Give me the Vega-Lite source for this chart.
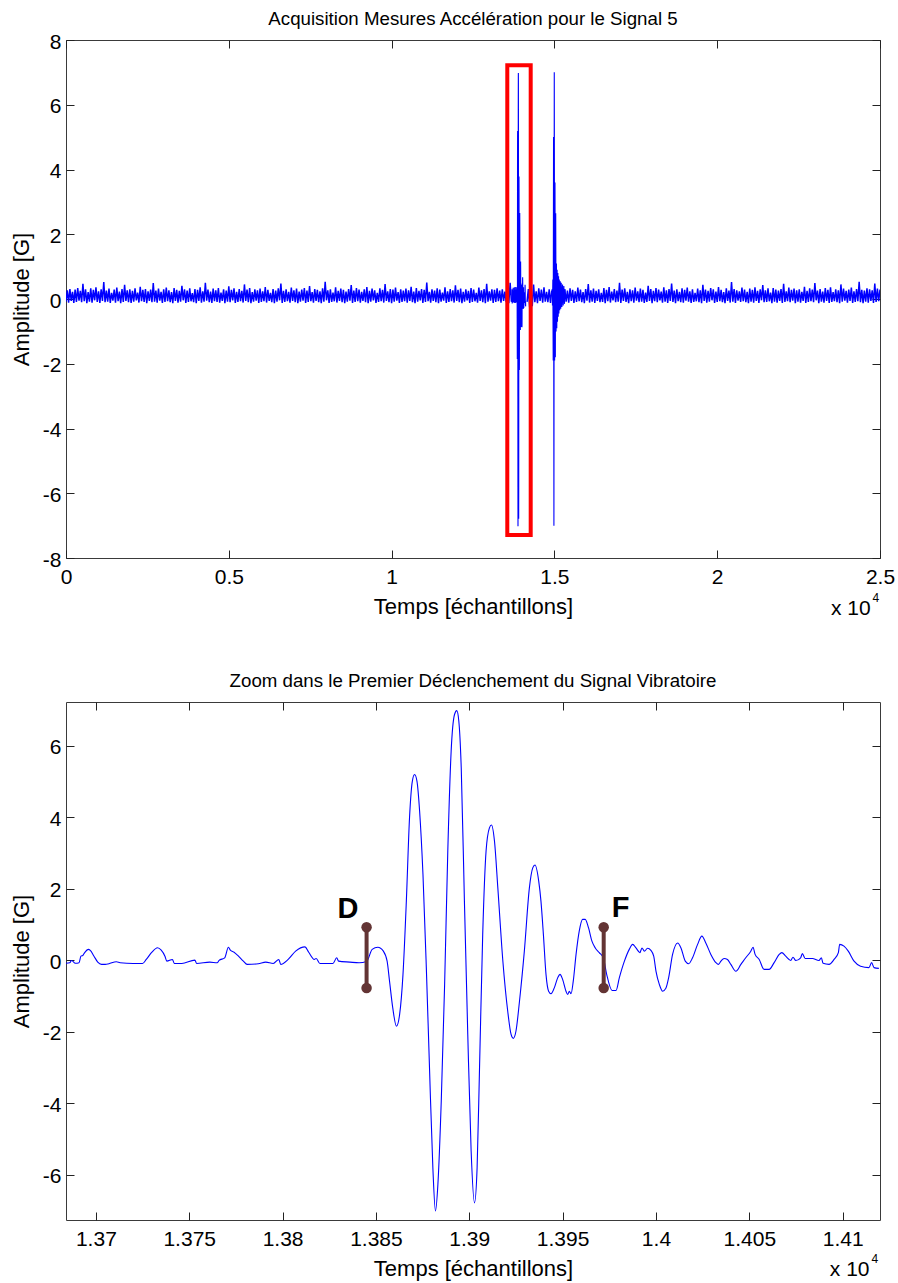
{
"$schema":"https://vega.github.io/schema/vega-lite/v6.json",
"background":"white",
"padding":{"left":10,"top":9,"right":2,"bottom":2},
"spacing":51,
"config":{
 "font":"Liberation Sans",
 "view":{"stroke":"#3a3a3a","strokeWidth":1},
 "axis":{"grid":false,"domain":false,"labelFlush":false,"tickColor":"#222","tickSize":-8,"tickWidth":1,"labelFont":"Liberation Sans","labelFontSize":21,"labelColor":"black","titleFont":"Liberation Sans","titleFontSize":22,"titleFontWeight":"normal","titleColor":"black"},
 "title":{"font":"Liberation Sans","fontSize":18.7,"fontWeight":"normal","color":"black","anchor":"middle","baseline":"alphabetic"}
},
"datasets":{
"n1":[
{"t":0,"a":-0.08},{"t":40,"a":0.27},{"t":80,"a":-0.11},{"t":120,"a":0.31},{"t":160,"a":-0.06},{"t":200,"a":0.22},{"t":240,"a":-0.12},{"t":280,"a":0.29},{"t":320,"a":-0.09},{"t":360,"a":0.34},
{"t":400,"a":-0.05},{"t":440,"a":0.25},{"t":480,"a":-0.1},{"t":520,"a":0.47},{"t":560,"a":-0.07},{"t":600,"a":0.3},{"t":640,"a":-0.13},{"t":680,"a":0.21},{"t":720,"a":-0.08},{"t":760,"a":0.33},
{"t":800,"a":-0.11},{"t":840,"a":0.28},{"t":880,"a":-0.04},{"t":920,"a":0.36},{"t":960,"a":-0.09},{"t":1000,"a":0.24},{"t":1040,"a":-0.12},{"t":1080,"a":0.3},{"t":1120,"a":-0.06},{"t":1160,"a":0.52},
{"t":1200,"a":-0.1},{"t":1240,"a":0.26},{"t":1280,"a":-0.08},{"t":1320,"a":0.32},{"t":1360,"a":-0.12},{"t":1400,"a":0.19},{"t":1440,"a":-0.05},{"t":1480,"a":0.29},{"t":1520,"a":-0.11},{"t":1560,"a":0.35},
{"t":1600,"a":-0.07},{"t":1640,"a":0.23},{"t":1680,"a":-0.13},{"t":1720,"a":0.31},{"t":1760,"a":-0.09},{"t":1800,"a":0.44},{"t":1840,"a":-0.06},{"t":1880,"a":0.27},{"t":1920,"a":-0.1},{"t":1960,"a":0.3},
{"t":2000,"a":-0.12},{"t":2040,"a":0.25},{"t":2080,"a":-0.08},{"t":2120,"a":0.33},{"t":2160,"a":-0.04},{"t":2200,"a":0.2},{"t":2240,"a":-0.11},{"t":2280,"a":0.38},{"t":2320,"a":-0.07},{"t":2360,"a":0.28},
{"t":2400,"a":-0.09},{"t":2440,"a":0.31},{"t":2480,"a":-0.13},{"t":2520,"a":0.24},{"t":2560,"a":-0.06},{"t":2600,"a":0.29},{"t":2640,"a":-0.1},{"t":2680,"a":0.49},{"t":2720,"a":-0.08},{"t":2760,"a":0.26},
{"t":2800,"a":-0.11},{"t":2840,"a":0.32},{"t":2880,"a":-0.05},{"t":2920,"a":0.22},{"t":2960,"a":-0.12},{"t":3000,"a":0.3},{"t":3040,"a":-0.09},{"t":3080,"a":0.35},{"t":3120,"a":-0.07},{"t":3160,"a":0.27},
{"t":3200,"a":-0.1},{"t":3240,"a":0.21},{"t":3280,"a":-0.13},{"t":3320,"a":0.34},{"t":3360,"a":-0.06},{"t":3400,"a":0.28},{"t":3440,"a":-0.11},{"t":3480,"a":0.25},{"t":3520,"a":-0.08},{"t":3560,"a":0.41},
{"t":3600,"a":-0.04},{"t":3640,"a":0.3},{"t":3680,"a":-0.12},{"t":3720,"a":0.26},{"t":3760,"a":-0.09},{"t":3800,"a":0.33},{"t":3840,"a":-0.07},{"t":3880,"a":0.18},{"t":3920,"a":-0.1},{"t":3960,"a":0.31},
{"t":4000,"a":-0.13},{"t":4040,"a":0.28},{"t":4080,"a":-0.06},{"t":4120,"a":0.36},{"t":4160,"a":-0.11},{"t":4200,"a":0.24},{"t":4240,"a":-0.08},{"t":4280,"a":0.5},{"t":4320,"a":-0.05},{"t":4360,"a":0.29},
{"t":4400,"a":-0.1},{"t":4440,"a":0.23},{"t":4480,"a":-0.12},{"t":4520,"a":0.32},{"t":4560,"a":-0.07},{"t":4600,"a":0.27},{"t":4640,"a":-0.09},{"t":4680,"a":0.34},{"t":4720,"a":-0.11},{"t":4760,"a":0.2},
{"t":4800,"a":-0.06},{"t":4840,"a":0.3},{"t":4880,"a":-0.13},{"t":4920,"a":0.26},{"t":4960,"a":-0.08},{"t":5000,"a":0.39},{"t":5040,"a":-0.1},{"t":5080,"a":0.28},{"t":5120,"a":-0.04},{"t":5160,"a":0.33},
{"t":5200,"a":-0.12},{"t":5240,"a":0.22},{"t":5280,"a":-0.09},{"t":5320,"a":0.31},{"t":5360,"a":-0.07},{"t":5400,"a":0.25},{"t":5440,"a":-0.11},{"t":5480,"a":0.45},{"t":5520,"a":-0.06},{"t":5560,"a":0.29},
{"t":5600,"a":-0.1},{"t":5640,"a":0.34},{"t":5680,"a":-0.13},{"t":5720,"a":0.21},{"t":5760,"a":-0.08},{"t":5800,"a":0.3},{"t":5840,"a":-0.05},{"t":5880,"a":0.27},{"t":5920,"a":-0.12},{"t":5960,"a":0.32},
{"t":6000,"a":-0.09},{"t":6040,"a":0.24},{"t":6080,"a":-0.07},{"t":6120,"a":0.37},{"t":6160,"a":-0.11},{"t":6200,"a":0.28},{"t":6240,"a":-0.06},{"t":6280,"a":0.19},{"t":6320,"a":-0.1},{"t":6360,"a":0.31},
{"t":6400,"a":-0.13},{"t":6440,"a":0.26},{"t":6480,"a":-0.08},{"t":6520,"a":0.33},{"t":6560,"a":-0.04},{"t":6600,"a":0.48},{"t":6640,"a":-0.12},{"t":6680,"a":0.25},{"t":6720,"a":-0.09},{"t":6760,"a":0.3},
{"t":6800,"a":-0.07},{"t":6840,"a":0.22},{"t":6880,"a":-0.11},{"t":6920,"a":0.35},{"t":6960,"a":-0.06},{"t":7000,"a":0.27},{"t":7040,"a":-0.1},{"t":7080,"a":0.32},{"t":7120,"a":-0.13},{"t":7160,"a":0.23},
{"t":7200,"a":-0.08},{"t":7240,"a":0.29},{"t":7280,"a":-0.05},{"t":7320,"a":0.34},{"t":7360,"a":-0.12},{"t":7400,"a":0.26},{"t":7440,"a":-0.09},{"t":7480,"a":0.4},{"t":7520,"a":-0.07},{"t":7560,"a":0.21},
{"t":7600,"a":-0.11},{"t":7640,"a":0.31},{"t":7680,"a":-0.06},{"t":7720,"a":0.28},{"t":7760,"a":-0.1},{"t":7800,"a":0.24},{"t":7840,"a":-0.13},{"t":7880,"a":0.33},{"t":7920,"a":-0.08},{"t":7960,"a":0.53},
{"t":8000,"a":-0.04},{"t":8040,"a":0.27},{"t":8080,"a":-0.12},{"t":8120,"a":0.3},{"t":8160,"a":-0.09},{"t":8200,"a":0.2},{"t":8240,"a":-0.07},{"t":8280,"a":0.36},{"t":8320,"a":-0.11},{"t":8360,"a":0.25},
{"t":8400,"a":-0.06},{"t":8440,"a":0.32},{"t":8480,"a":-0.1},{"t":8520,"a":0.28},{"t":8560,"a":-0.13},{"t":8600,"a":0.23},{"t":8640,"a":-0.08},{"t":8680,"a":0.31},{"t":8720,"a":-0.05},{"t":8760,"a":0.43},
{"t":8800,"a":-0.12},{"t":8840,"a":0.26},{"t":8880,"a":-0.09},{"t":8920,"a":0.34},{"t":8960,"a":-0.07},{"t":9000,"a":0.29},{"t":9040,"a":-0.11},{"t":9080,"a":0.22},{"t":9120,"a":-0.06},{"t":9160,"a":0.3},
{"t":9200,"a":-0.1},{"t":9240,"a":0.37},{"t":9280,"a":-0.13},{"t":9320,"a":0.25},{"t":9360,"a":-0.08},{"t":9400,"a":0.32},{"t":9440,"a":-0.04},{"t":9480,"a":0.27},{"t":9520,"a":-0.12},{"t":9560,"a":0.19},
{"t":9600,"a":-0.09},{"t":9640,"a":0.33},{"t":9680,"a":-0.07},{"t":9720,"a":0.28},{"t":9760,"a":-0.11},{"t":9800,"a":0.46},{"t":9840,"a":-0.06},{"t":9880,"a":0.24},{"t":9920,"a":-0.1},{"t":9960,"a":0.31},
{"t":10000,"a":-0.13},{"t":10040,"a":0.29},{"t":10080,"a":-0.08},{"t":10120,"a":0.35},{"t":10160,"a":-0.05},{"t":10200,"a":0.21},{"t":10240,"a":-0.12},{"t":10280,"a":0.3},{"t":10320,"a":-0.09},{"t":10360,"a":0.26},
{"t":10400,"a":-0.07},{"t":10440,"a":0.32},{"t":10480,"a":-0.11},{"t":10520,"a":0.27},{"t":10560,"a":-0.06},{"t":10600,"a":0.38},{"t":10640,"a":-0.1},{"t":10680,"a":0.23},{"t":10720,"a":-0.13},{"t":10760,"a":0.34},
{"t":10800,"a":-0.08},{"t":10840,"a":0.25},{"t":10880,"a":-0.04},{"t":10920,"a":0.31},{"t":10960,"a":-0.12},{"t":11000,"a":0.28},{"t":11040,"a":-0.09},{"t":11080,"a":0.51},{"t":11120,"a":-0.07},{"t":11160,"a":0.22},
{"t":11200,"a":-0.11},{"t":11240,"a":0.3},{"t":11280,"a":-0.06},{"t":11320,"a":0.26},{"t":11360,"a":-0.1},{"t":11400,"a":0.33},{"t":11440,"a":-0.13},{"t":11480,"a":0.29},{"t":11520,"a":-0.08},{"t":11560,"a":0.2},
{"t":11600,"a":-0.05},{"t":11640,"a":0.36},{"t":11680,"a":-0.12},{"t":11720,"a":0.24},{"t":11760,"a":-0.09},{"t":11800,"a":0.31},{"t":11840,"a":-0.07},{"t":11880,"a":0.27},{"t":11920,"a":-0.11},{"t":11960,"a":0.42},
{"t":12000,"a":-0.06},{"t":12040,"a":0.28},{"t":12080,"a":-0.1},{"t":12120,"a":0.32},{"t":12160,"a":-0.13},{"t":12200,"a":0.22},{"t":12240,"a":-0.08},{"t":12280,"a":0.3},{"t":12320,"a":-0.04},{"t":12360,"a":0.25},
{"t":12400,"a":-0.12},{"t":12440,"a":0.34},{"t":12480,"a":-0.09},{"t":12520,"a":0.29},{"t":12560,"a":-0.07},{"t":12600,"a":0.19},{"t":12640,"a":-0.11},{"t":12680,"a":0.35},{"t":12720,"a":-0.06},{"t":12760,"a":0.27},
{"t":12800,"a":-0.1},{"t":12840,"a":0.31},{"t":12880,"a":-0.13},{"t":12920,"a":0.47},{"t":12960,"a":-0.08},{"t":13000,"a":0.24},{"t":13040,"a":-0.05},{"t":13080,"a":0.3},{"t":13120,"a":-0.12},{"t":13160,"a":0.28},
{"t":13200,"a":-0.09},{"t":13240,"a":0.33},{"t":13280,"a":-0.07},{"t":13320,"a":0.26},{"t":13360,"a":-0.11},{"t":13400,"a":0.3},{"t":13440,"a":-0.06},{"t":13480,"a":0.23},{"t":13520,"a":-0.1},{"t":13560,"a":0.35},{"t":13600,"a":-0.13},{"t":13640,"a":0.5},{"t":13680,"a":-0.08}
],
"n2":[
{"t":14160,"a":-0.09},{"t":14200,"a":0.31},{"t":14240,"a":-0.25},{"t":14280,"a":0.27},{"t":14320,"a":-0.22},{"t":14360,"a":0.45},{"t":14400,"a":-0.1},{"t":14440,"a":0.24},{"t":14480,"a":-0.13},{"t":14520,"a":0.33},
{"t":14560,"a":-0.06},{"t":14600,"a":0.29},{"t":14640,"a":-0.11},{"t":14680,"a":0.36},{"t":14720,"a":-0.08},{"t":14760,"a":0.22},{"t":14800,"a":-0.1},{"t":14840,"a":0.3},{"t":14880,"a":-0.12},{"t":14920,"a":0.26}
],
"b2":[
{"t":14920,"a":0.26},{"t":14930,"a":0.3},{"t":14941,"a":-0.2},{"t":14952,"a":0.6},{"t":14963,"a":-1.9},{"t":14974,"a":5.0},{"t":14985,"a":-7.0},{"t":14996,"a":7.0},{"t":15007,"a":-1.9},{"t":15018,"a":3.6},{"t":15029,"a":-1.8},
{"t":15040,"a":2.65},{"t":15051,"a":-1.0},{"t":15062,"a":1.1},{"t":15073,"a":-0.9},{"t":15084,"a":0.9},{"t":15095,"a":-0.7},{"t":15106,"a":0.8},{"t":15117,"a":-0.55},{"t":15128,"a":0.7},{"t":15139,"a":-0.45},
{"t":15150,"a":0.6},{"t":15165,"a":-0.35},{"t":15180,"a":0.55},{"t":15195,"a":-0.3},{"t":15210,"a":0.5},{"t":15230,"a":-0.25},{"t":15250,"a":0.45},{"t":15270,"a":-0.2},{"t":15290,"a":0.4},{"t":15310,"a":-0.15},{"t":15320,"a":0.3}
],
"n3":[
{"t":15320,"a":0.3},{"t":15360,"a":-0.08},{"t":15400,"a":0.26},{"t":15440,"a":-0.11},{"t":15480,"a":0.33},{"t":15520,"a":-0.06},{"t":15560,"a":0.28},{"t":15600,"a":-0.12},{"t":15640,"a":0.24},{"t":15680,"a":-0.09},
{"t":15720,"a":0.35},{"t":15760,"a":-0.07},{"t":15800,"a":0.29},{"t":15840,"a":-0.1},{"t":15880,"a":0.21},{"t":15920,"a":-0.13},{"t":15960,"a":0.31},{"t":16000,"a":-0.05},{"t":16040,"a":0.46},{"t":16080,"a":-0.11},
{"t":16120,"a":0.27},{"t":16160,"a":-0.08},{"t":16200,"a":0.32},{"t":16240,"a":-0.12},{"t":16280,"a":0.25},{"t":16320,"a":-0.06},{"t":16360,"a":0.3},{"t":16400,"a":-0.1},{"t":16440,"a":0.19},{"t":16480,"a":-0.09},
{"t":16520,"a":0.34},{"t":16560,"a":-0.13},{"t":16600,"a":0.28},{"t":16640,"a":-0.07},{"t":16680,"a":0.37},{"t":16720,"a":-0.11},{"t":16760,"a":0.23},{"t":16800,"a":-0.04},{"t":16840,"a":0.31},{"t":16880,"a":-0.1},
{"t":16920,"a":0.26},{"t":16960,"a":-0.08},{"t":17000,"a":0.5},{"t":17040,"a":-0.12},{"t":17080,"a":0.29},{"t":17120,"a":-0.06},{"t":17160,"a":0.33},{"t":17200,"a":-0.09},{"t":17240,"a":0.22},{"t":17280,"a":-0.13},
{"t":17320,"a":0.3},{"t":17360,"a":-0.07},{"t":17400,"a":0.27},{"t":17440,"a":-0.11},{"t":17480,"a":0.35},{"t":17520,"a":-0.05},{"t":17560,"a":0.24},{"t":17600,"a":-0.1},{"t":17640,"a":0.32},{"t":17680,"a":-0.08},
{"t":17720,"a":0.28},{"t":17760,"a":-0.12},{"t":17800,"a":0.2},{"t":17840,"a":-0.09},{"t":17880,"a":0.41},{"t":17920,"a":-0.06},{"t":17960,"a":0.31},{"t":18000,"a":-0.13},{"t":18040,"a":0.25},{"t":18080,"a":-0.07},
{"t":18120,"a":0.34},{"t":18160,"a":-0.1},{"t":18200,"a":0.29},{"t":18240,"a":-0.04},{"t":18280,"a":0.23},{"t":18320,"a":-0.11},{"t":18360,"a":0.36},{"t":18400,"a":-0.08},{"t":18440,"a":0.27},{"t":18480,"a":-0.12},
{"t":18520,"a":0.31},{"t":18560,"a":-0.06},{"t":18600,"a":0.48},{"t":18640,"a":-0.09},{"t":18680,"a":0.26},{"t":18720,"a":-0.13},{"t":18760,"a":0.3},{"t":18800,"a":-0.07},{"t":18840,"a":0.22},{"t":18880,"a":-0.1},
{"t":18920,"a":0.33},{"t":18960,"a":-0.11},{"t":19000,"a":0.28},{"t":19040,"a":-0.05},{"t":19080,"a":0.35},{"t":19120,"a":-0.08},{"t":19160,"a":0.24},{"t":19200,"a":-0.12},{"t":19240,"a":0.3},{"t":19280,"a":-0.09},
{"t":19320,"a":0.19},{"t":19360,"a":-0.07},{"t":19400,"a":0.32},{"t":19440,"a":-0.1},{"t":19480,"a":0.27},{"t":19520,"a":-0.13},{"t":19560,"a":0.44},{"t":19600,"a":-0.06},{"t":19640,"a":0.29},{"t":19680,"a":-0.11},
{"t":19720,"a":0.25},{"t":19760,"a":-0.08},{"t":19800,"a":0.34},{"t":19840,"a":-0.04},{"t":19880,"a":0.3},{"t":19920,"a":-0.12},{"t":19960,"a":0.23},{"t":20000,"a":-0.09},{"t":20040,"a":0.37},{"t":20080,"a":-0.07},
{"t":20120,"a":0.28},{"t":20160,"a":-0.1},{"t":20200,"a":0.21},{"t":20240,"a":-0.13},{"t":20280,"a":0.33},{"t":20320,"a":-0.06},{"t":20360,"a":0.26},{"t":20400,"a":-0.11},{"t":20440,"a":0.52},{"t":20480,"a":-0.08},
{"t":20520,"a":0.31},{"t":20560,"a":-0.12},{"t":20600,"a":0.27},{"t":20640,"a":-0.05},{"t":20680,"a":0.24},{"t":20720,"a":-0.09},{"t":20760,"a":0.35},{"t":20800,"a":-0.07},{"t":20840,"a":0.29},{"t":20880,"a":-0.1},
{"t":20920,"a":0.22},{"t":20960,"a":-0.13},{"t":21000,"a":0.32},{"t":21040,"a":-0.08},{"t":21080,"a":0.28},{"t":21120,"a":-0.11},{"t":21160,"a":0.36},{"t":21200,"a":-0.06},{"t":21240,"a":0.25},{"t":21280,"a":-0.12},
{"t":21320,"a":0.3},{"t":21360,"a":-0.04},{"t":21400,"a":0.43},{"t":21440,"a":-0.1},{"t":21480,"a":0.27},{"t":21520,"a":-0.09},{"t":21560,"a":0.33},{"t":21600,"a":-0.07},{"t":21640,"a":0.2},{"t":21680,"a":-0.13},
{"t":21720,"a":0.34},{"t":21760,"a":-0.08},{"t":21800,"a":0.29},{"t":21840,"a":-0.11},{"t":21880,"a":0.26},{"t":21920,"a":-0.06},{"t":21960,"a":0.31},{"t":22000,"a":-0.12},{"t":22040,"a":0.47},{"t":22080,"a":-0.09},
{"t":22120,"a":0.24},{"t":22160,"a":-0.07},{"t":22200,"a":0.35},{"t":22240,"a":-0.1},{"t":22280,"a":0.28},{"t":22320,"a":-0.05},{"t":22360,"a":0.32},{"t":22400,"a":-0.13},{"t":22440,"a":0.27},{"t":22480,"a":-0.08},
{"t":22520,"a":0.3},{"t":22560,"a":-0.11},{"t":22600,"a":0.22},{"t":22640,"a":-0.06},{"t":22680,"a":0.38},{"t":22720,"a":-0.12},{"t":22760,"a":0.25},{"t":22800,"a":-0.09},{"t":22840,"a":0.33},{"t":22880,"a":-0.07},
{"t":22920,"a":0.29},{"t":22960,"a":-0.1},{"t":23000,"a":0.49},{"t":23040,"a":-0.04},{"t":23080,"a":0.26},{"t":23120,"a":-0.13},{"t":23160,"a":0.31},{"t":23200,"a":-0.08},{"t":23240,"a":0.23},{"t":23280,"a":-0.11},
{"t":23320,"a":0.34},{"t":23360,"a":-0.06},{"t":23400,"a":0.28},{"t":23440,"a":-0.12},{"t":23480,"a":0.36},{"t":23520,"a":-0.09},{"t":23560,"a":0.21},{"t":23600,"a":-0.07},{"t":23640,"a":0.3},{"t":23680,"a":-0.1},
{"t":23720,"a":0.27},{"t":23760,"a":-0.13},{"t":23800,"a":0.45},{"t":23840,"a":-0.08},{"t":23880,"a":0.32},{"t":23920,"a":-0.05},{"t":23960,"a":0.25},{"t":24000,"a":-0.11},{"t":24040,"a":0.29},{"t":24080,"a":-0.06},
{"t":24120,"a":0.35},{"t":24160,"a":-0.12},{"t":24200,"a":0.24},{"t":24240,"a":-0.09},{"t":24280,"a":0.31},{"t":24320,"a":-0.07},{"t":24360,"a":0.53},{"t":24400,"a":-0.1},{"t":24440,"a":0.28},{"t":24480,"a":-0.13},
{"t":24520,"a":0.26},{"t":24560,"a":-0.08},{"t":24600,"a":0.33},{"t":24640,"a":-0.11},{"t":24680,"a":0.3},{"t":24720,"a":-0.06},{"t":24760,"a":0.27},{"t":24800,"a":-0.12},{"t":24840,"a":0.48},{"t":24880,"a":-0.09},{"t":24920,"a":0.32},{"t":24960,"a":-0.07},{"t":25000,"a":0.29}
],
"zoom":[
{"t":13684,"a":-0.09},{"t":13686,"a":-0.075},{"t":13687,"a":-0.01},{"t":13689,"a":-0.09},{"t":13691,"a":-0.075},{"t":13692,"a":0.11},{"t":13693,"a":0.13},{"t":13694,"a":0.21},{"t":13696,"a":0.3},{"t":13697,"a":0.27},
{"t":13699,"a":0.11},{"t":13701,"a":-0.056},{"t":13703,"a":-0.12},{"t":13705,"a":-0.12},{"t":13707,"a":-0.1},{"t":13711,"a":-0.047},{"t":13713,"a":-0.075},{"t":13720,"a":-0.093},{"t":13725,"a":-0.093},{"t":13727,"a":0.019},
{"t":13730,"a":0.22},{"t":13733,"a":0.345},{"t":13735,"a":0.28},{"t":13737,"a":0.11},{"t":13738,"a":-0.028},{"t":13741,"a":0.019},{"t":13742,"a":-0.093},{"t":13746,"a":-0.093},{"t":13753,"a":0.0},{"t":13754,"a":-0.093},
{"t":13761,"a":-0.056},{"t":13765,"a":-0.075},{"t":13766,"a":-0.01},{"t":13769,"a":0.065},{"t":13771,"a":0.36},{"t":13772,"a":0.28},{"t":13774,"a":0.22},{"t":13776,"a":0.13},{"t":13779,"a":-0.028},{"t":13781,"a":-0.12},
{"t":13787,"a":-0.1},{"t":13791,"a":-0.056},{"t":13795,"a":-0.093},{"t":13798,"a":0.019},{"t":13799,"a":-0.12},{"t":13803,"a":0.019},{"t":13807,"a":0.25},{"t":13812,"a":0.37},{"t":13814,"a":0.22},{"t":13817,"a":0.019},
{"t":13818,"a":0.047},{"t":13820,"a":-0.093},{"t":13827,"a":-0.093},{"t":13829,"a":0.065},{"t":13830,"a":-0.028},{"t":13836,"a":-0.056},{"t":13841,"a":-0.075},{"t":13845,"a":-0.04},{"t":13848,"a":0.3},{"t":13851,"a":0.36},
{"t":13854,"a":0.25},{"t":13856,"a":-0.03},{"t":13857.3,"a":-0.59},{"t":13859,"a":-1.33},{"t":13861,"a":-1.85},{"t":13862.7,"a":-1.52},{"t":13864.5,"a":-0.4},{"t":13866.3,"a":1.65},{"t":13868,"a":3.98},{"t":13869.5,"a":5.0},
{"t":13870.7,"a":5.19},{"t":13872,"a":5.0},{"t":13873.4,"a":4.17},{"t":13875.2,"a":2.4},{"t":13877,"a":-0.21},{"t":13878.7,"a":-3.01},{"t":13880.5,"a":-5.81},{"t":13881.9,"a":-7.02},{"t":13883.2,"a":-6.27},{"t":13885,"a":-3.94},
{"t":13886.8,"a":-0.68},{"t":13888.5,"a":3.05},{"t":13890.3,"a":5.85},{"t":13892.1,"a":6.87},{"t":13893.3,"a":6.98},{"t":13894.4,"a":6.69},{"t":13895.7,"a":5.38},{"t":13897.4,"a":1.65},{"t":13899.2,"a":-2.08},{"t":13901,"a":-5.34},
{"t":13902.8,"a":-6.79},{"t":13904.2,"a":-5.81},{"t":13905.5,"a":-3.01},{"t":13907.2,"a":0.72},{"t":13909,"a":3.05},{"t":13910.8,"a":3.7},{"t":13911.9,"a":3.78},{"t":13913.5,"a":3.33},{"t":13915.3,"a":2.02},{"t":13918,"a":-0.03},
{"t":13920.6,"a":-1.43},{"t":13922.4,"a":-2.08},{"t":13923.6,"a":-2.19},{"t":13925,"a":-1.99},{"t":13926.9,"a":-1.15},{"t":13929.5,"a":0.25},{"t":13932.2,"a":2.02},{"t":13934,"a":2.58},{"t":13935.2,"a":2.66},{"t":13937.2,"a":2.21},
{"t":13938.4,"a":1.65},{"t":13939.7,"a":0.72},{"t":13941.1,"a":-0.4},{"t":13942.5,"a":-0.87},{"t":13943.8,"a":-0.94},{"t":13945.6,"a":-0.77},{"t":13947.4,"a":-0.49},{"t":13948.6,"a":-0.4},{"t":13950,"a":-0.54},{"t":13951.8,"a":-0.87},
{"t":13952.7,"a":-0.96},{"t":13953.6,"a":-0.87},{"t":13954.5,"a":-0.94},{"t":13955.7,"a":-0.59},{"t":13957.2,"a":0.16},{"t":13958.9,"a":0.81},{"t":13960.7,"a":1.14},{"t":13962.1,"a":1.14},{"t":13963.9,"a":0.9},{"t":13965.7,"a":0.53},
{"t":13967.5,"a":0.34},{"t":13969.6,"a":0.21},{"t":13971.8,"a":0.065},{"t":13973.6,"a":-0.4},{"t":13976.5,"a":-0.85},{"t":13978.6,"a":-0.85},{"t":13980.4,"a":-0.49},{"t":13983.1,"a":-0.03},{"t":13985.7,"a":0.3},{"t":13987.5,"a":0.44},
{"t":13989.3,"a":0.34},{"t":13991.4,"a":0.21},{"t":13992.5,"a":0.34},{"t":13993.8,"a":0.25},{"t":13995.5,"a":0.33},{"t":13997.3,"a":0.27},{"t":13998.8,"a":0.11},{"t":14000,"a":-0.31},{"t":14001.8,"a":-0.68},{"t":14003.6,"a":-0.87},
{"t":14005.3,"a":-0.79},{"t":14006.8,"a":-0.49},{"t":14008.9,"a":0.16},{"t":14011.6,"a":0.48},{"t":14013.4,"a":0.34},{"t":14015.7,"a":-0.03},{"t":14017.5,"a":-0.1},{"t":14019.6,"a":0.065},{"t":14022.3,"a":0.44},{"t":14024.6,"a":0.67},
{"t":14026.7,"a":0.48},{"t":14029.4,"a":0.16},{"t":14032.1,"a":-0.07},{"t":14033.5,"a":-0.12},{"t":14034.8,"a":-0.03},{"t":14036.5,"a":0.047},{"t":14038.3,"a":0.019},{"t":14040.1,"a":-0.12},{"t":14042.8,"a":-0.31},{"t":14045.5,"a":-0.12},
{"t":14048.1,"a":0.065},{"t":14050.8,"a":0.25},{"t":14052,"a":0.36},{"t":14053.1,"a":0.16},{"t":14055.3,"a":0.019},{"t":14057.9,"a":-0.26},{"t":14060.6,"a":-0.26},{"t":14063.3,"a":-0.07},{"t":14066,"a":0.16},{"t":14067.4,"a":0.21},
{"t":14069.5,"a":0.11},{"t":14072.2,"a":-0.01},{"t":14073.4,"a":0.08},{"t":14074.9,"a":-0.01},{"t":14077.5,"a":0.065},{"t":14078.4,"a":0.18},{"t":14079.9,"a":0.047},{"t":14083.8,"a":0.047},{"t":14087.3,"a":-0.01},{"t":14088.6,"a":0.065},
{"t":14089.5,"a":-0.09},{"t":14092.7,"a":-0.12},{"t":14095.4,"a":0.019},{"t":14097.7,"a":0.21},{"t":14098.4,"a":0.44},{"t":14100.7,"a":0.39},{"t":14103,"a":0.25},{"t":14106.1,"a":-0.03},{"t":14109.6,"a":-0.17},{"t":14114.1,"a":-0.21},
{"t":14115.5,"a":-0.07},{"t":14116.8,"a":-0.21},{"t":14119.4,"a":-0.23}
],
"box":[{"x1":13553,"x2":14272,"y1":-7.29,"y2":7.22}],
"marks":[{"t":13845,"lo":-0.78,"hi":0.92,"lab":"D"},{"t":13972,"lo":-0.78,"hi":0.92,"lab":"F"}]
},
"vconcat":[
{
 "width":814,"height":518,
 "title":{"text":"Acquisition Mesures Accélération pour le Signal 5","offset":2},
 "resolve":{"axis":{"x":"independent","y":"independent"}},
 "layer":[
  {"data":{"name":"n1"},"mark":{"type":"line","color":"#0000ff","strokeWidth":1.5,"clip":true},
   "encoding":{
    "x":{"field":"t","type":"quantitative","scale":{"domain":[0,25000],"nice":false,"zero":false},
         "axis":{"orient":"bottom","values":[0,5000,10000,15000,20000,25000],"labelExpr":"format(datum.value/10000,'~g')","title":"Temps [échantillons]","labelPadding":16,"titlePadding":9}},
    "y":{"field":"a","type":"quantitative","scale":{"domain":[-8,8],"nice":false,"zero":false},
         "axis":{"orient":"left","values":[-8,-6,-4,-2,0,2,4,6,8],"labelExpr":"''+datum.value","title":"Amplitude [G]","labelPadding":13,"labelOffset":2,"titlePadding":8.5}}}},
  {"data":{"name":"n2"},"mark":{"type":"line","color":"#0000ff","strokeWidth":1.5,"clip":true},
   "encoding":{"x":{"field":"t","type":"quantitative","axis":null},"y":{"field":"a","type":"quantitative","axis":null}}},
  {"data":{"name":"n3"},"mark":{"type":"line","color":"#0000ff","strokeWidth":1.5,"clip":true},
   "encoding":{"x":{"field":"t","type":"quantitative","axis":null},"y":{"field":"a","type":"quantitative","axis":null}}},
  {"data":{"name":"b2"},"mark":{"type":"line","color":"#0000ff","strokeWidth":1.1,"clip":true},
   "encoding":{"x":{"field":"t","type":"quantitative","axis":null},"y":{"field":"a","type":"quantitative","axis":null}}},
  {"data":{"name":"zoom"},"mark":{"type":"line","color":"#0000ff","strokeWidth":1.1,"clip":true},
   "encoding":{"x":{"field":"t","type":"quantitative","axis":null},"y":{"field":"a","type":"quantitative","axis":null}}},
  {"data":{"name":"box"},"mark":{"type":"rect","filled":false,"color":"#ff0000","stroke":"#ff0000","strokeWidth":4},
   "encoding":{
    "x":{"field":"x1","type":"quantitative","axis":{"orient":"top","values":[0,5000,10000,15000,20000,25000],"labels":false,"title":null}},
    "x2":{"field":"x2"},
    "y":{"field":"y1","type":"quantitative","axis":{"orient":"right","values":[-8,-6,-4,-2,0,2,4,6,8],"labels":false,"title":null}},
    "y2":{"field":"y2"}}},
  {"data":{"values":[{"t":24714,"a":-9.76,"s":"x 10"}]},"mark":{"type":"text","align":"right","baseline":"alphabetic","fontSize":21,"color":"black"},
   "encoding":{"x":{"field":"t","type":"quantitative","axis":null},"y":{"field":"a","type":"quantitative","axis":null},"text":{"field":"s"}}},
  {"data":{"values":[{"t":24770,"a":-9.35,"s":"4"}]},"mark":{"type":"text","align":"left","baseline":"alphabetic","fontSize":12,"color":"black"},
   "encoding":{"x":{"field":"t","type":"quantitative","axis":null},"y":{"field":"a","type":"quantitative","axis":null},"text":{"field":"s"}}}
 ]
},
{
 "width":814,"height":518,
 "title":{"text":"Zoom dans le Premier Déclenchement du Signal Vibratoire","offset":11},
 "resolve":{"axis":{"x":"independent","y":"independent"}},
 "layer":[
  {"data":{"name":"zoom"},"mark":{"type":"line","color":"#0000ff","strokeWidth":1.1,"clip":true,"interpolate":"monotone"},
   "encoding":{
    "x":{"field":"t","type":"quantitative","scale":{"domain":[13684,14120],"nice":false,"zero":false},
         "axis":{"orient":"bottom","values":[13700,13750,13800,13850,13900,13950,14000,14050,14100],"labelExpr":"format(datum.value/10000,'~g')","title":"Temps [échantillons]","labelPadding":16,"titlePadding":9}},
    "y":{"field":"a","type":"quantitative","scale":{"domain":[-7.27,7.22],"nice":false,"zero":false},
         "axis":{"orient":"left","values":[-6,-4,-2,0,2,4,6],"labelExpr":"''+datum.value","title":"Amplitude [G]","labelPadding":13,"labelOffset":2,"titlePadding":8.5}}}},
  {"data":{"name":"marks"},"mark":{"type":"rule","color":"#633434","strokeWidth":4},
   "encoding":{
    "x":{"field":"t","type":"quantitative","axis":{"orient":"top","values":[13700,13750,13800,13850,13900,13950,14000,14050,14100],"labels":false,"title":null}},
    "y":{"field":"lo","type":"quantitative","axis":{"orient":"right","values":[-6,-4,-2,0,2,4,6],"labels":false,"title":null}},
    "y2":{"field":"hi"}}},
  {"data":{"name":"marks"},"mark":{"type":"point","filled":true,"color":"#633434","size":110,"opacity":1},
   "encoding":{"x":{"field":"t","type":"quantitative","axis":null},"y":{"field":"hi","type":"quantitative","axis":null}}},
  {"data":{"name":"marks"},"mark":{"type":"point","filled":true,"color":"#633434","size":110,"opacity":1},
   "encoding":{"x":{"field":"t","type":"quantitative","axis":null},"y":{"field":"lo","type":"quantitative","axis":null}}},
  {"data":{"name":"marks"},"transform":[{"filter":"datum.lab == 'D'"}],"mark":{"type":"text","align":"center","baseline":"alphabetic","fontSize":29,"fontWeight":"bold","color":"black","dx":-18.5,"dy":-9},
   "encoding":{"x":{"field":"t","type":"quantitative","axis":null},"y":{"field":"hi","type":"quantitative","axis":null},"text":{"field":"lab"}}},
  {"data":{"name":"marks"},"transform":[{"filter":"datum.lab == 'F'"}],"mark":{"type":"text","align":"center","baseline":"alphabetic","fontSize":29,"fontWeight":"bold","color":"black","dx":17,"dy":-10},
   "encoding":{"x":{"field":"t","type":"quantitative","axis":null},"y":{"field":"hi","type":"quantitative","axis":null},"text":{"field":"lab"}}},
  {"data":{"values":[{"t":14114.4,"a":-8.84,"s":"x 10"}]},"mark":{"type":"text","align":"right","baseline":"alphabetic","fontSize":21,"color":"black"},
   "encoding":{"x":{"field":"t","type":"quantitative","axis":null},"y":{"field":"a","type":"quantitative","axis":null},"text":{"field":"s"}}},
  {"data":{"values":[{"t":14115.4,"a":-8.47,"s":"4"}]},"mark":{"type":"text","align":"left","baseline":"alphabetic","fontSize":12,"color":"black"},
   "encoding":{"x":{"field":"t","type":"quantitative","axis":null},"y":{"field":"a","type":"quantitative","axis":null},"text":{"field":"s"}}}
 ]
}
]
}
